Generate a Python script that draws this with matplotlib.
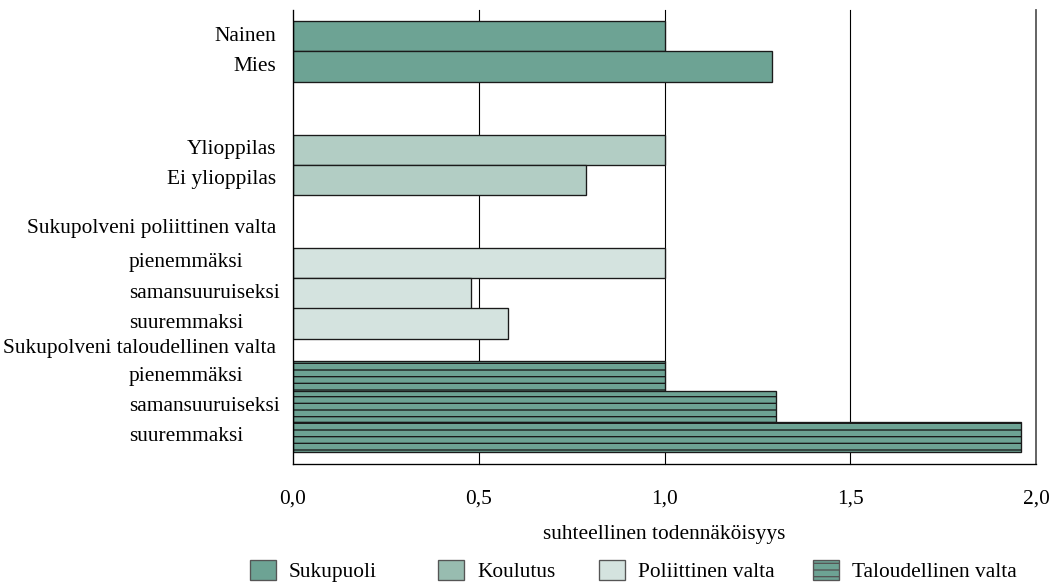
import matplotlib
matplotlib.use("Agg")
import matplotlib.pyplot as plt
from matplotlib.patches import Patch

# ---- data ----
categories = ["Nainen", "Mies", "Ylioppilas", "Ei ylioppilas",
              "pienemmäksi", "samansuuruiseksi", "suuremmaksi",
              "pienemmäksi", "samansuuruiseksi", "suuremmaksi"]
values = [1.00, 1.29, 1.00, 0.79, 1.00, 0.48, 0.58, 1.00, 1.30, 1.96]
groups = ["Sukupuoli", "Sukupuoli", "Koulutus", "Koulutus",
          "Poliittinen valta", "Poliittinen valta", "Poliittinen valta",
          "Taloudellinen valta", "Taloudellinen valta", "Taloudellinen valta"]
headers = ["Sukupolveni poliittinen valta", "Sukupolveni taloudellinen valta"]
legend_labels = ["Sukupuoli", "Koulutus", "Poliittinen valta", "Taloudellinen valta"]
xticks = [0.0, 0.5, 1.0, 1.5, 2.0]
xticklabels = ["0,0", "0,5", "1,0", "1,5", "2,0"]
xlabel = "suhteellinen todennäköisyys"

# ---- styles / layout ----
colors = {"Sukupuoli": "#6da394", "Koulutus": "#b2cdc4",
          "Poliittinen valta": "#d4e3df", "Taloudellinen valta": "#6da394"}
legend_colors = {"Sukupuoli": "#6da394", "Koulutus": "#98bcb0",
                 "Poliittinen valta": "#d4e3df", "Taloudellinen valta": "#6da394"}
hatches = {"Sukupuoli": None, "Koulutus": None,
           "Poliittinen valta": None, "Taloudellinen valta": "--"}
row_pos = [0.86, 1.87, 4.62, 5.61, 8.35, 9.37, 10.36, 12.11, 13.10, 14.10]
header_pos = [7.23, 11.19]
sub_left = [False, False, False, False, True, True, True, True, True, True]

DPI = 80
FONT = "Liberation Serif"
FS = 19.2
plt.rcParams["font.family"] = [FONT, "DejaVu Serif"]
plt.rcParams["hatch.linewidth"] = 1.2

fig = plt.figure(figsize=(1053 / DPI, 585 / DPI), dpi=DPI)
ax = fig.add_axes([293 / 1053, 1 - 464 / 585, (1036 - 293) / 1053, (464 - 10) / 585])

for v, g, y in zip(values, groups, row_pos):
    ax.barh(y, v, height=1.0, color=colors[g], edgecolor="#1a1a1a",
            linewidth=1.2, hatch=hatches[g], zorder=3)

ax.set_xlim(0, 2.0)
ax.set_ylim(15.0, 0)
for xv in xticks[1:]:
    ax.axvline(xv, color="black" if xv != 2.0 else "#555555",
               linewidth=1.0 if xv != 2.0 else 1.6, zorder=1, clip_on=False)

for s in ["top", "right"]:
    ax.spines[s].set_visible(False)
ax.spines["left"].set_linewidth(1.2)
ax.spines["bottom"].set_linewidth(1.2)
ax.spines["left"].set_zorder(4)

ax.set_yticks([])
ax.set_xticks(xticks)
ax.set_xticklabels(xticklabels, fontsize=FS)
ax.tick_params(axis="x", length=0, pad=23)
ax.set_xlabel(xlabel, fontsize=FS, labelpad=15)

for lab, y, left in zip(categories, row_pos, sub_left):
    if left:
        ax.annotate(lab, xy=(0, y), xycoords=("axes fraction", "data"),
                    xytext=(-(293 - 129) * 72 / DPI, 0), textcoords="offset points",
                    ha="left", va="center", fontsize=FS)
    else:
        ax.annotate(lab, xy=(0, y), xycoords=("axes fraction", "data"),
                    xytext=(-(293 - 276) * 72 / DPI, 0), textcoords="offset points",
                    ha="right", va="center", fontsize=FS)
for lab, y in zip(headers, header_pos):
    ax.annotate(lab, xy=(0, y), xycoords=("axes fraction", "data"),
                xytext=(-(293 - 276) * 72 / DPI, 0), textcoords="offset points",
                ha="right", va="center", fontsize=FS)

# legend entries placed individually
leg_x = [250, 438, 599, 813]
fs_px = FS * DPI / 72
for lab, xp in zip(legend_labels, leg_x):
    h = Patch(facecolor=legend_colors[lab], edgecolor="#555555", linewidth=1.2,
              hatch=hatches[lab])
    fig.legend(handles=[h], labels=[lab], loc="center left",
               bbox_to_anchor=(xp / 1053, 1 - 571 / 585), frameon=False,
               fontsize=FS, handlelength=26 / fs_px, handleheight=23 / fs_px,
               handletextpad=13 / fs_px, borderpad=0, borderaxespad=0)

fig.savefig("out.png", dpi=DPI)
